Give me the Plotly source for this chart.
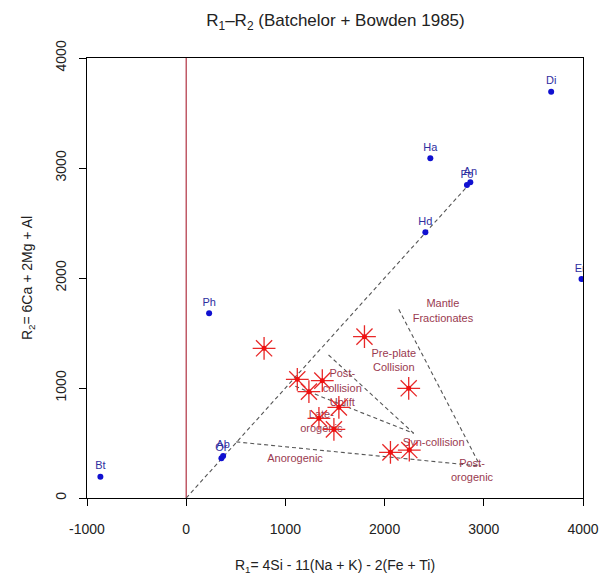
import plotly.graph_objects as go

# Reference minerals (blue points)
min_names = ["Bt", "Ph", "Or", "Ab", "Hd", "Ha", "Fo", "An", "Di", "En"]
min_r1 = [-865, 231, 355, 372, 2411, 2461, 2830, 2864, 3679, 3985]
min_r2 = [194, 1679, 361, 382, 2415, 3088, 2845, 2870, 3694, 1990]

# Samples (red asterisks)
smp_r1 = [785, 1797, 1120, 1372, 1237, 1539, 1338, 1489, 2243, 2059, 2249]
smp_r2 = [1361, 1467, 1079, 1067, 967, 824, 724, 624, 997, 415, 436]

# Field boundaries (dashed), each a list of [r1...], [r2...]
bound_lines = [
    ([0, 2830], [0, 2830]),          # diagonal through Hd
    ([505, 2965], [510, 290]),       # anorogenic boundary
    ([2143, 2965], [1715, 290]),     # mantle fractionates boundary
    ([1435, 2294], [1300, 588]),     # post-collision upper
    ([1100, 2294], [1015, 588]),     # post-collision lower
]

# Field labels
field_text = ["Mantle<br>Fractionates", "Pre-plate<br>Collision", "Post-<br>collision<br>Uplift",
              "Late-<br>orogenic", "Anorogenic", "Syn-collision", "Post-<br>orogenic"]
field_r1 = [2588, 2093, 1573, 1362, 1097, 2495, 2881]
field_r2 = [1694, 1245, 991, 688, 352, 497, 243]

# Tick labels
x_ticks = [-1000, 0, 1000, 2000, 3000, 4000]
x_tick_text = ["-1000", "0", "1000", "2000", "3000", "4000"]
y_ticks = [0, 1000, 2000, 3000, 4000]
y_tick_text = ["0", "1000", "2000", "3000", "4000"]

FONT = "Liberation Sans, Arial, sans-serif"

fig = go.Figure()

# vertical red line at R1 = 0
fig.add_trace(go.Scatter(x=[0, 0], y=[0, 4000], mode="lines",
                         line=dict(color="#B03040", width=1.2), hoverinfo="skip"))

for xs, ys in bound_lines:
    fig.add_trace(go.Scatter(x=xs, y=ys, mode="lines",
                             line=dict(color="#555555", width=1.1, dash="4px,3px"),
                             hoverinfo="skip"))

fig.add_trace(go.Scatter(x=field_r1, y=field_r2, mode="text", text=field_text,
                         textfont=dict(family=FONT, size=11, color="#9A3A50"),
                         textposition="middle center", hoverinfo="skip"))

fig.add_trace(go.Scatter(x=min_r1, y=min_r2, mode="markers+text", text=min_names,
                         textposition="top center",
                         textfont=dict(family=FONT, size=11, color="#2E2EA0"),
                         marker=dict(color="#1010D0", size=6),
                         cliponaxis=True))

fig.add_trace(go.Scatter(x=smp_r1, y=smp_r2, mode="markers",
                         marker=dict(symbol="asterisk-open", size=19, color="#E82828",
                                     line=dict(color="#E82828", width=1.3))))
fig.add_trace(go.Scatter(x=smp_r1, y=smp_r2, mode="markers",
                         marker=dict(color="#F01010", size=5)))

fig.update_layout(
    width=610, height=575,
    margin=dict(l=87, r=27, t=58, b=77),
    paper_bgcolor="white", plot_bgcolor="white",
    showlegend=False,
    font=dict(family=FONT, color="#222222"),
    title=dict(text="R<sub>1</sub>\u2013R<sub>2</sub> (Batchelor + Bowden 1985)",
               x=0.55, xanchor="center", y=0.965, yanchor="middle",
               font=dict(size=17, color="#222222")),
)
fig.update_xaxes(range=[-1000, 4000], tickvals=x_ticks, ticktext=x_tick_text,
                 automargin=False,
                 showgrid=False, zeroline=False, showline=True, mirror=True,
                 linecolor="black", linewidth=1.2, ticks="outside", ticklen=7,
                 tickcolor="black", tickfont=dict(size=14, color="#222222"),
                 ticklabelstandoff=11,
                 title=dict(text="R<sub>1</sub>= 4Si - 11(Na + K) - 2(Fe + Ti)",
                            font=dict(size=14, color="#222222"), standoff=25))
fig.update_yaxes(range=[0, 4000], tickvals=y_ticks, ticktext=y_tick_text,
                 automargin=False,
                 showgrid=False, zeroline=False, showline=True, mirror=True,
                 linecolor="black", linewidth=1.2, ticks="outside", ticklen=7,
                 tickcolor="black", tickangle=-90,
                 tickfont=dict(size=14, color="#222222"),
                 ticklabelstandoff=7,
                 title=dict(text="R<sub>2</sub>= 6Ca + 2Mg + Al",
                            font=dict(size=14, color="#222222"), standoff=17))

fig.write_html("out.html")
